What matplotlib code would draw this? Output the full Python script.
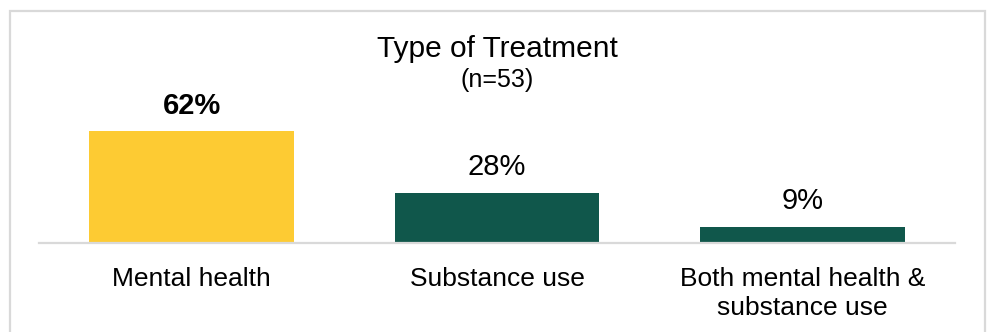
import matplotlib
matplotlib.use("Agg")
import matplotlib.pyplot as plt
from matplotlib.patches import Rectangle

plt.rcParams["font.family"] = ["Liberation Sans", "DejaVu Sans"]

categories = ["Mental health", "Substance use", "Both mental health &\nsubstance use"]
values = [62, 28, 9]
value_labels = ["62%", "28%", "9%"]
colors = ["#FDCB33", "#10574B", "#10574B"]
title = "Type of Treatment"
subtitle = "(n=53)"

W, H, DPI = 989, 332, 100
fig = plt.figure(figsize=(W / DPI, H / DPI), dpi=DPI)
fig.patch.set_facecolor("white")

# outer panel border (open at the bottom)
fig.add_artist(Rectangle((9.5 / W, -0.2), 975 / W, 1.2 - 10.5 / H,
                         transform=fig.transFigure, fill=False,
                         edgecolor="#d9d9d9", linewidth=1.6))

ax = fig.add_axes([39 / W, (H - 243) / H, (955 - 39) / W, 180 / H])
x = range(len(categories))
bars = ax.bar(x, values, width=0.67, color=colors, zorder=2)
ax.set_xlim(-0.5, 2.5)
ax.set_ylim(0, 100)

for spine in ["top", "right", "left"]:
    ax.spines[spine].set_visible(False)
ax.spines["bottom"].set_color("#d9d9d9")
ax.spines["bottom"].set_linewidth(1.6)
ax.set_yticks([])
ax.set_xticks(list(x))
ax.set_xticklabels(categories, fontsize=19, linespacing=1.3)
ax.tick_params(axis="x", length=0, pad=17)

for i, (v, lab) in enumerate(zip(values, value_labels)):
    ax.annotate(lab, (i, v), xytext=(0, 12.5), textcoords="offset points",
                ha="center", va="baseline", fontsize=21,
                fontweight="bold" if i == 0 else "normal")

fig.text(497 / W, 1 - 57 / H, title, ha="center", va="baseline", fontsize=21.5)
fig.text(497 / W, 1 - 87 / H, subtitle, ha="center", va="baseline", fontsize=18)

fig.savefig("out.png", dpi=DPI)
